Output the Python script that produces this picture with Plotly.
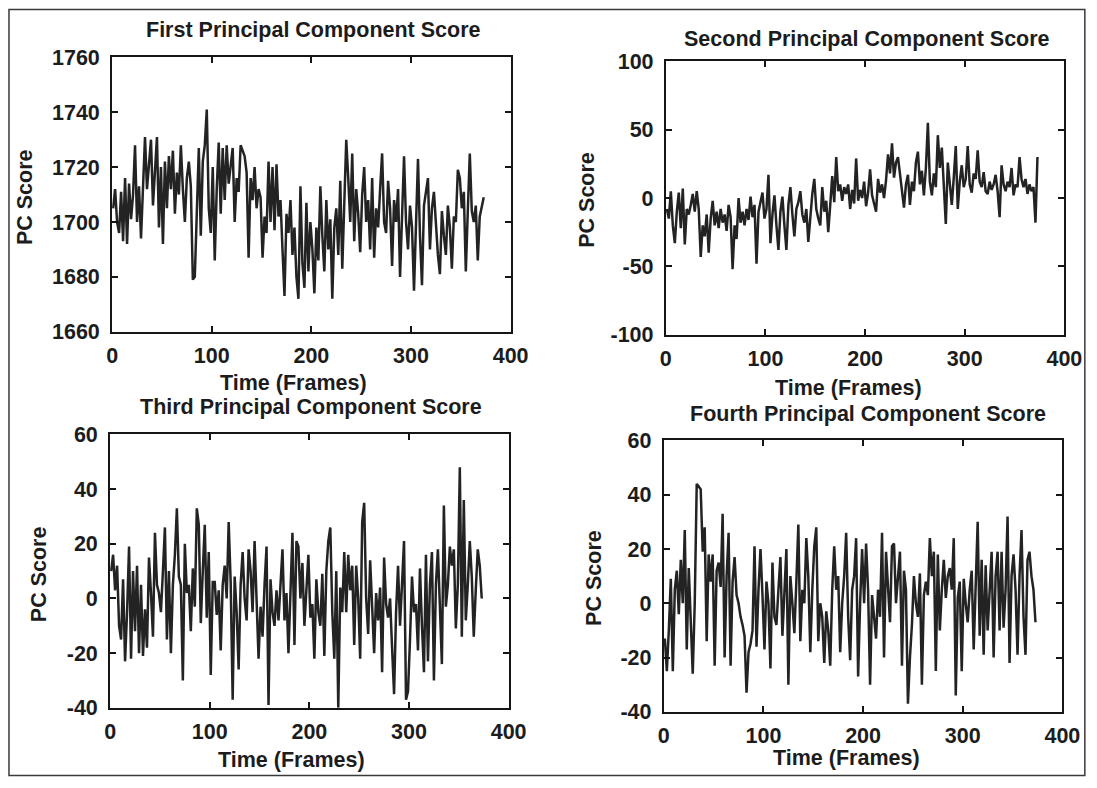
import plotly.graph_objects as go

# The captured picture maps page pixels to picture pixels as
#   pic_x = SX * page_x + OX,   pic_y = SY * page_y + OY
# and the page places the figure after an 8px body margin.  All target
# positions below are in picture pixels and are converted back.
PAGE_MARGIN = 8
SX, OX = 0.977, -0.8
SY, OY = 0.972, 2.7
W, H = 1105, 790
FS = 21.5  # font size

# ---- data (one value every 2 frames, starting at frame 1) ----
FRAME_START = 1
FRAME_STEP = 2

pc1_scores = [
    1705, 1712, 1700, 1696, 1711, 1693,
    1716, 1692, 1714, 1701, 1710, 1728, 1700, 1713, 1694, 1715,
    1731, 1712, 1722, 1730, 1706, 1718, 1731, 1698, 1720, 1692,
    1722, 1705, 1724, 1712, 1726, 1703, 1718, 1710, 1728, 1712,
    1700, 1716, 1722, 1713, 1679, 1680, 1705, 1727, 1695, 1722,
    1728, 1741, 1705, 1696, 1720, 1686, 1712, 1729, 1703, 1727,
    1708, 1728, 1714, 1721, 1727, 1700, 1716, 1711, 1728, 1726,
    1724, 1718, 1687, 1716, 1708, 1720, 1705, 1712, 1709, 1687,
    1702, 1696, 1722, 1700, 1720, 1697, 1721, 1702, 1708, 1690,
    1673, 1703, 1696, 1708, 1688, 1698, 1680, 1672, 1713, 1685,
    1676, 1707, 1682, 1700, 1690, 1674, 1698, 1686, 1713, 1695,
    1682, 1708, 1690, 1701, 1672, 1698, 1705, 1688, 1715, 1683,
    1708, 1730, 1716, 1700, 1725, 1693, 1712, 1703, 1689, 1710,
    1720, 1700, 1708, 1690, 1716, 1687, 1705, 1698, 1712, 1725,
    1700, 1696, 1715, 1705, 1684, 1708, 1700, 1712, 1680, 1702,
    1724, 1700, 1690, 1706, 1698, 1675, 1700, 1723, 1695, 1677,
    1706, 1712, 1716, 1690, 1705, 1711, 1697, 1688, 1681, 1704,
    1695, 1688, 1706, 1698, 1683, 1702, 1700, 1719, 1716, 1705,
    1711, 1682, 1704, 1725, 1704, 1700, 1706, 1686, 1702, 1706,
    1709,
]

pc2_scores = [
    -8, -15, 5, -20, -33, -10,
    4, -22, 7, -34, -8, -12, -5, 3, -10, 5,
    -8, -43, -20, -28, -12, -40, -15, -2, -20, -10,
    -22, -8, -18, -12, -24, -5, -14, -52, -20, -30,
    0, -18, -10, -20, -8, -16, 1, -14, -5, -48,
    -10, -3, 4, -15, -8, 17, -33, -12, 2, -20,
    -38, -10, 1, -20, -38, -5, 8, -12, -28, -8,
    -3, 5, -12, -18, -8, -32, -12, 3, 14, -8,
    -15, -20, 8, -10, -2, -25, -5, 16, -3, 30,
    5, 10, -2, 8, 3, 10, -8, 6, -4, 29,
    -2, 6, 0, 12, -6, 4, 21, 2, -4, -10,
    14, 4, 10, 0, 13, 32, 18, 40, 15, 26,
    30, 18, 8, -7, 10, 17, -5, 12, 5, 26,
    34, 10, 20, 2, 22, 55, 12, 2, 18, 8,
    46, 22, 37, 10, -19, 26, 8, -5, 15, 38,
    -8, 12, 24, 8, 14, 38, 10, 4, 18, 14,
    35, 12, 8, 19, 5, 3, 12, 6, 10, 17,
    5, -14, 24, 10, 5, 12, 8, 22, 2, 10,
    8, 30, 14, 8, 14, 3, 10, 5, 8, -18,
    30,
]

pc3_scores = [
    10, 16, 3, 12, -10, -15,
    7, -23, -5, 19, -22, 10, -12, 12, -20, 5,
    -21, -4, -18, 15, 2, -14, 24, 5, 2, -5,
    10, 26, -15, 10, -20, 5, 16, 33, 8, 5,
    -30, 20, 2, 5, -12, 11, -3, 33, 27, -9,
    10, 27, -7, 17, -28, 6, 6, -6, 3, -19,
    5, 12, 0, 28, 6, -37, 8, -5, -26, 5,
    17, 0, -8, 18, 10, -5, 21, 2, -22, -3,
    -14, 5, 19, -39, 7, -5, -10, 3, -8, 5,
    18, -8, 2, -20, 5, 24, -17, 21, 19, 0,
    13, -10, 3, 16, -7, -2, -22, 7, -5, -10,
    9, -21, 10, 21, 26, -5, -22, 10, -40, 4,
    -5, 17, -5, 16, 3, 12, -17, 12, 0, -22,
    28, 35, 0, -13, 14, -5, -20, 2, -8, 4,
    -27, 15, -2, -7, 0, -18, -35, -5, 12, -10,
    5, 21, -37, -34, -15, 8, -5, -2, -19, 11,
    -10, -27, 16, -23, 5, 17, -30, 5, 18, 0,
    -24, 34, -3, 5, 19, 12, 18, -11, 5, 48,
    -14, 36, -8, 5, 21, 8, -14, 3, 18, 12,
    0,
]

pc4_scores = [
    -13, -25, -10, 9, -25, 5,
    12, -4, 16, 0, 27, -17, 13, -5, -26, 0,
    44, 43, 42, 19, 28, -14, 18, 8, 18, -23,
    12, 15, 6, 33, -20, 10, 26, -23, 8, 17,
    3, 0, -5, -8, -12, -33, -18, -15, -10, 21,
    -16, 5, 20, 3, -17, 8, 0, -24, 15, -5,
    -8, 5, 17, -12, 5, 20, -30, 10, 0, -11,
    8, 29, -14, 5, 0, 24, 10, -18, 5, 21,
    28, -14, 0, -5, -22, -3, -10, -23, 5, 21,
    5, 10, -18, 0, 10, 26, -5, -21, 5, 10,
    24, -27, 0, 20, 0, 22, 5, -30, 3, -5,
    -13, 5, -5, 26, -20, 19, 5, -7, 21, 22,
    0, 10, 19, -23, 12, 5, -37, -20, -8, 10,
    0, -5, 11, -30, 3, 8, 3, 24, 10, 19,
    -25, 18, -10, 5, 16, 2, 10, 13, 5, 24,
    -34, 2, 8, -25, 9, 0, -7, 5, 12, -17,
    5, 30, -12, 16, -19, 14, -10, 5, 19, -20,
    10, 19, -10, 19, -9, 5, 32, -22, 10, 18,
    5, -19, 10, 27, -5, -19, 16, 19, 10, 5,
    -7,
]

panel_titles = [
    "First Principal Component Score",
    "Second Principal Component Score",
    "Third Principal Component Score",
    "Fourth Principal Component Score",
]
x_title = "Time (Frames)"
y_title = "PC Score"

x_tick_values = [0, 100, 200, 300, 400]
x_tick_labels = ["0", "100", "200", "300", "400"]

y_tick_values = [
    [1660, 1680, 1700, 1720, 1740, 1760],
    [-100, -50, 0, 50, 100],
    [-40, -20, 0, 20, 40, 60],
    [-40, -20, 0, 20, 40, 60],
]
y_tick_labels = [
    ["1660", "1680", "1700", "1720", "1740", "1760"],
    ["-100", "-50", "0", "50", "100"],
    ["-40", "-20", "0", "20", "40", "60"],
    ["-40", "-20", "0", "20", "40", "60"],
]

series = [pc1_scores, pc2_scores, pc3_scores, pc4_scores]

# ---- layout geometry (picture pixels) ----
# (left, right, top, bottom) of each plot box
boxes = [(113, 511, 57, 332), (666, 1064, 61, 335), (111, 509, 435, 709), (664, 1062, 441, 713)]
title_pos = [(314, 30), (867, 39), (312, 407), (868, 414)]
xtitle_pos = [(294, 383), (848, 388), (292, 761), (846, 759)]
ytitle_pos = [(26, 197), (587, 200), (40, 575), (594, 579)]

FONT = "Liberation Sans"
TXT = "#1c1c1c"
LINE = "#232323"
AXIS = "#151515"


def px_x(p):
    return ((p - OX) / SX - PAGE_MARGIN) / W


def px_y(p):
    return 1 - ((p - OY) / SY - PAGE_MARGIN) / H


fig = go.Figure()
layout = dict(
    width=W, height=H, autosize=False,
    margin=dict(l=0, r=0, t=0, b=0, pad=0),
    paper_bgcolor="white", plot_bgcolor="white",
    showlegend=False,
    font=dict(family=FONT, size=FS, color=TXT, weight="bold"),
)

annotations = []
for i, vals in enumerate(series):
    n = i + 1
    xa = "x" if n == 1 else f"x{n}"
    ya = "y" if n == 1 else f"y{n}"
    frames = list(range(FRAME_START, FRAME_START + FRAME_STEP * len(vals), FRAME_STEP))
    fig.add_trace(go.Scatter(
        x=frames, y=vals, mode="lines",
        line=dict(color=LINE, width=2.5),
        xaxis=xa, yaxis=ya, hoverinfo="skip",
    ))
    l, r, t, b = boxes[i]
    yt = y_tick_values[i]
    common = dict(
        showline=True, linecolor=AXIS, linewidth=2, mirror="allticks",
        ticks="inside", ticklen=6, tickwidth=1.6, tickcolor=AXIS,
        showgrid=False, zeroline=False,
        tickfont=dict(family=FONT, size=FS, color=TXT, weight="bold"),
        fixedrange=True,
    )
    layout["xaxis" if n == 1 else f"xaxis{n}"] = dict(
        domain=[px_x(l), px_x(r)], range=[0, 400], anchor=ya,
        tickmode="array", tickvals=x_tick_values, ticktext=x_tick_labels,
        ticklabelstandoff=3,
        **common,
    )
    layout["yaxis" if n == 1 else f"yaxis{n}"] = dict(
        domain=[px_y(b), px_y(t)], range=[yt[0], yt[-1]], anchor=xa,
        tickmode="array", tickvals=yt, ticktext=y_tick_labels[i],
        ticklabelstandoff=6,
        **common,
    )
    tx, ty = title_pos[i]
    annotations.append(dict(
        text=panel_titles[i], x=px_x(tx), y=px_y(ty), xref="paper", yref="paper",
        xanchor="center", yanchor="middle", showarrow=False,
        font=dict(family=FONT, size=FS, color=TXT, weight="bold"),
    ))
    xx, xy = xtitle_pos[i]
    annotations.append(dict(
        text=x_title, x=px_x(xx), y=px_y(xy), xref="paper", yref="paper",
        xanchor="center", yanchor="middle", showarrow=False,
        font=dict(family=FONT, size=FS, color=TXT, weight="bold"),
    ))
    yx, yy = ytitle_pos[i]
    annotations.append(dict(
        text=y_title, x=px_x(yx), y=px_y(yy), xref="paper", yref="paper",
        xanchor="center", yanchor="middle", showarrow=False, textangle=-90,
        font=dict(family=FONT, size=FS, color=TXT, weight="bold"),
    ))

layout["annotations"] = annotations
# outer frame of the figure (kept inside the figure area)
layout["shapes"] = [dict(
    type="rect", xref="paper", yref="paper",
    x0=px_x(10), x1=min(px_x(1090), 0.998), y0=max(px_y(785), 0.002), y1=px_y(9),
    line=dict(color="#3a3a3a", width=1.5), fillcolor="rgba(0,0,0,0)",
)]

fig.update_layout(**layout)
fig.write_html("out.html")
